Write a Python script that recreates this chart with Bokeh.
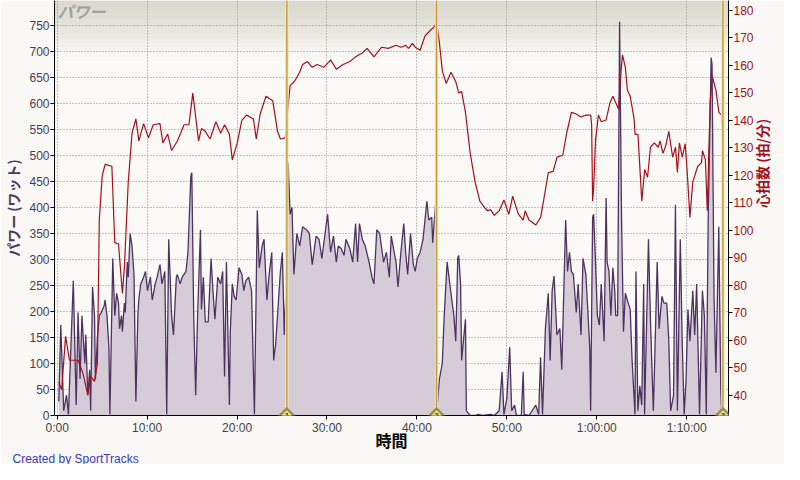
import math
from bokeh.plotting import figure
from bokeh.models import Range1d, LinearAxis, FixedTicker, Label, BoxAnnotation, Span, Title
from bokeh.embed import file_html
from bokeh.resources import INLINE

# ---------------- data ----------------
power_t = [0.18,0.40,0.72,1.04,1.25,1.79,2.11,2.32,2.54,2.75,3.07,3.18,3.40,3.61,3.72,3.93,4.15,4.25,4.47,4.68,
           4.90,5.22,5.32,5.54,5.75,5.86,6.18,6.40,6.61,6.82,6.93,7.15,7.25,7.47,7.57,7.79,7.90,8.11,8.32,8.54,
           8.75,8.97,9.07,9.29,9.61,9.82,10.04,10.36,10.57,10.90,11.11,11.43,11.65,11.97,12.18,12.40,12.72,12.93,
           13.25,13.36,13.68,13.90,14.32,14.54,
           14.86,14.97,15.18,15.40,15.61,15.93,16.04,16.25,16.47,16.79,17.11,17.32,17.54,17.86,18.18,18.40,18.61,
           18.82,19.15,19.25,19.47,19.68,19.90,20.22,20.54,20.75,20.97,21.29,21.61,21.93,22.25,22.47,22.79,23.00,
           23.32,23.54,23.86,24.07,24.29,24.50,24.82,25.04,25.25,25.47,25.57,25.68,25.90,26.11,26.32,26.65,26.97,
           27.29,27.72,28.04,28.36,28.79,29.11,29.43,
           30.07,30.40,30.72,31.04,31.25,31.57,31.90,32.11,32.54,32.86,33.18,33.40,33.61,33.93,34.25,34.68,35.00,
           35.22,35.54,35.86,36.29,36.61,36.93,37.15,37.47,37.68,37.90,38.22,38.54,38.75,38.97,39.29,39.61,39.82,
           40.04,40.36,40.68,41.11,41.32,41.65,41.75,42.07,42.18,42.50,42.82,43.04,43.36,43.79,44.11,44.32,44.54,
           44.65,44.86,44.97,45.40,45.50,45.93,46.47,46.79,47.32,48.18,48.61,49.15,49.47,49.68,50.00,50.32,50.54,
           50.86,51.07,51.61,51.82,51.93,52.47,53.22,53.54,53.75,53.97,54.29,54.61,54.82,55.04,55.25,55.57,55.90,
           56.11,56.54,56.75,56.97,57.18,57.40,57.72,57.93,58.25,58.47,58.79,59.00,59.22,59.32,59.54,
           59.65,59.86,60.07,60.29,60.50,60.82,61.04,61.15,61.36,61.57,61.79,62.00,62.11,62.32,62.54,62.75,62.97,
           63.18,63.50,63.72,63.93,64.25,64.36,64.57,64.79,65.00,65.22,65.32,65.75,65.97,66.29,66.39,66.72,66.93,
           67.25,67.47,67.79,68.00,68.22,68.54,68.75,68.97,69.29,69.50,69.72,69.93,70.14,70.36,70.68,70.89,71.11,
           71.43,71.75,71.97,72.18,72.39,72.72,72.82,73.04,73.25,73.57,73.79,73.90]

power_w = [27,174,9,39,2,259,20,198,70,192,100,155,39,88,9,247,192,70,149,192,
           198,211,222,192,131,2,302,192,235,216,167,192,161,216,198,295,266,350,326,271,
           27,192,222,253,266,277,240,266,222,253,266,290,253,277,2,339,192,155,
           266,271,253,266,277,314,
           460,467,192,39,192,357,204,266,180,180,302,240,185,266,253,277,75,
           295,20,161,253,229,222,284,271,240,259,266,240,2,394,284,326,339,
           222,266,314,106,137,192,277,314,155,253,350,486,387,400,271,350,326,
           363,357,350,290,345,339,302,
           387,314,345,295,326,321,308,339,321,295,369,295,369,339,326,295,266,
           253,357,350,295,314,266,345,314,295,247,314,369,314,271,350,290,277,
           302,314,339,412,376,381,332,405,2,70,100,192,295,235,192,143,302,
           308,253,106,185,9,0,0,2,0,2,0,9,84,2,33,131,9,
           20,0,0,84,2,0,20,2,112,2,167,235,106,240,268,155,167,
           88,376,277,314,277,271,198,253,155,302,271,204,131,9,381,
           387,295,192,174,253,143,418,295,277,192,284,240,192,192,757,387,161,
           235,216,204,106,2,277,9,57,20,253,2,339,185,9,70,295,167,
           229,216,216,149,9,39,405,9,339,143,2,70,204,143,240,155,253,
           2,240,192,2,376,688,675,229,82,363,51,2]

hr_t = [0.18,0.50,0.93,1.36,2.33,2.86,3.40,3.72,4.15,4.47,4.68,5.00,5.33,6.08,6.40,6.82,7.25,7.47,7.90,8.32,
        8.75,9.08,9.61,10.15,10.68,11.43,11.75,12.29,12.72,13.36,14.11,14.65,15.08,15.72,16.04,16.47,17.00,17.65,
        18.18,18.61,19.15,19.47,20.00,20.54,21.07,21.82,22.14,22.57,23.22,23.97,24.50,24.82,25.36,25.68,25.90,
        26.43,26.97,27.29,27.83,28.36,28.90,29.65,30.40,31.04,31.79,32.54,33.18,33.93,34.47,35.22,36.08,36.82,
        37.68,38.22,38.75,39.07,39.50,39.82,40.36,40.90,41.43,41.97,42.18,42.50,42.83,43.26,43.79,44.33,44.65,
        44.97,45.40,45.93,46.47,47.00,47.54,47.86,48.18,48.61,49.15,49.68,50.22,50.65,51.29,51.83,52.04,52.47,
        53.22,53.76,54.08,54.61,55.15,55.58,56.22,56.65,57.18,57.72,58.25,58.79,59.33,59.43,59.54,59.65,59.86,
        60.18,60.50,61.04,61.47,61.79,62.11,62.44,62.65,62.86,63.18,63.40,63.72,64.15,64.26,64.58,65.01,65.33,
        65.65,65.97,66.40,66.83,67.04,67.36,67.68,68.01,68.44,68.76,68.97,69.19,69.51,69.83,70.04,70.36,70.68,
        71.22,71.65,71.76,72.08,72.29,72.61,72.83,73.25,73.58,73.90,74.00]

hr_bpm = [44.6,42,61.4,52.7,52.7,48,40,46.8,45,51.6,103.6,119.8,124,123.3,95.5,95,77,86.4,117.5,135.3,
          140.5,132.5,138.8,133.6,138.4,138.8,131.8,135,129,132.5,138.4,138.4,149.9,132.5,137,136,133.2,139.5,
          135.3,138.4,134.9,125.6,131.5,140.1,141.9,140.5,133.2,142.3,148.8,147.1,136,133.2,133.6,145.3,152.6,
          154.4,157.5,160.3,161.4,159.3,160.3,159.3,162,158.6,160.3,161.4,163.1,164.5,166.2,163.1,166.6,166.2,
          167.3,166.6,167.3,166.2,168,166.6,165.5,170.7,172.5,174.2,175.9,168.3,157.9,153.4,157.5,154,150,
          150.5,142.9,128,117.6,110.6,108.2,107.1,107.5,105.4,107.1,111,105.8,112.4,105.8,103.7,107.1,103.7,
          101.9,104.7,110.6,121,121.4,126.6,127.3,135.3,142.9,142.3,141.2,141.9,141.9,138.4,110.6,115.2,132.5,
          141.9,139.5,140.1,146.4,148.8,146.4,144,155.8,163.8,159.3,151,148.8,140.5,134.9,134.9,110.6,122.1,
          119.3,130.2,131.8,130.2,132.5,128,130.9,136,126.6,130.2,121,131.8,126.6,131.5,122.1,104.7,117.6,
          123.2,124.6,129,125.6,107.1,146.4,156.2,151,142.9,141.9,136]

lap_times = [25.54, 42.18, 74.03]
lap_labels = ["1", "2", "3"]

x_ticks = [0, 10, 20, 30, 40, 50, 60, 70]
x_tick_labels = ["0:00", "10:00", "20:00", "30:00", "40:00", "50:00", "1:00:00", "1:10:00"]
power_ticks = list(range(0, 800, 50))
hr_ticks = list(range(40, 190, 10))

# ---------------- styles ----------------
BG = "#F9F8F4"
FRAME_BG = "#FBFAF7"
PWR_LINE = "#4E3262"
PWR_FILL = "#D5CCD8"
HR_LINE = "#A8101C"
PWR_TXT = "#4A3A5C"
HR_TXT = "#A0101E"
JP = "Noto Sans CJK JP"
TICKF = "Liberation Sans"

p = figure(width=784, height=464, output_backend="svg", toolbar_location=None,
           x_range=Range1d(-0.3, 74.65), y_range=Range1d(0, 798),
           background_fill_color=FRAME_BG, border_fill_color=BG,
           min_border_left=0, min_border_right=0, min_border_top=0, min_border_bottom=0)
p.outline_line_color = None

p.extra_y_ranges = {"hr": Range1d(32.6, 183.6)}

# top gradient band
for i in range(12):
    p.add_layout(BoxAnnotation(bottom=798 - (i + 1) * 9, top=798, fill_color="#A29C8E",
                               fill_alpha=0.033, line_color=None, level="image"))

# grids
for g in (p.xgrid, p.ygrid):
    g.grid_line_color = "#8A8A8A"
    g.grid_line_dash = "1 2"
    g.grid_line_width = 1

# power
p.varea(x=power_t, y1=0, y2=power_w, fill_color=PWR_FILL, fill_alpha=1.0)
p.line(power_t, power_w, line_color=PWR_LINE, line_width=1.3)

# heart rate
p.line(hr_t, hr_bpm, line_color=HR_LINE, line_width=1.2, y_range_name="hr")

# lap markers
for t in lap_times:
    p.add_layout(Span(location=t, dimension="height", line_color="#EFE5B8", line_width=3.5))
    p.add_layout(Span(location=t, dimension="height", line_color="#C29C3C", line_width=1.4))

# x axis
xa = p.xaxis[0]
xa.ticker = FixedTicker(ticks=x_ticks)
xa.major_label_overrides = {t: s for t, s in zip(x_ticks, x_tick_labels)}
xa.axis_label = "時間"
xa.axis_label_text_font = JP
xa.axis_label_text_font_size = "16px"
xa.axis_label_text_font_style = "bold"
xa.axis_label_text_color = "#000000"
xa.axis_label_standoff = -10

# left axis
ya = p.yaxis[0]
ya.ticker = FixedTicker(ticks=power_ticks)
ya.axis_label = "パワー (ワット)"
ya.axis_label_text_font = JP
ya.axis_label_text_font_size = "14px"
ya.axis_label_text_font_style = "bold"
ya.axis_label_text_color = PWR_TXT
ya.axis_label_standoff = 3
ya.major_label_text_color = PWR_TXT

# right axis
ra = LinearAxis(y_range_name="hr", ticker=FixedTicker(ticks=hr_ticks))
ra.axis_label = "心拍数 (拍/分)"
ra.axis_label_text_font = JP
ra.axis_label_text_font_size = "14px"
ra.axis_label_text_font_style = "bold"
ra.axis_label_text_color = HR_TXT
ra.axis_label_standoff = 5
ra.major_label_text_color = HR_TXT
try:
    ra.axis_label_orientation = math.pi / 2
except Exception:
    pass
p.add_layout(ra, "right")

for ax in (xa, ya, ra):
    ax.axis_line_color = "#000000"
    ax.major_tick_line_color = "#000000"
    ax.minor_tick_line_color = None
    ax.major_tick_in = 0
    ax.major_tick_out = 4
    ax.major_label_standoff = 1
    ax.major_label_text_font = TICKF
    ax.major_label_text_font_size = "12px"

# lap diamonds
for t, lab in zip(lap_times, lap_labels):
    p.add_layout(Label(x=t, y=0, y_units="screen", text="◆", text_color="#9A8A40", text_font=JP,
                       text_font_size="19px", text_align="center", text_baseline="middle", level="overlay"))
    p.add_layout(Label(x=t, y=0, y_units="screen", text="◆", text_color="#F2E48A", text_font=JP,
                       text_font_size="14px", text_align="center", text_baseline="middle", level="overlay"))
    p.add_layout(Label(x=t, y=0, y_units="screen", text=lab, text_color="#333300",
                       text_font="Liberation Sans",
                       text_font_size="8px", text_font_style="bold", text_align="center",
                       text_baseline="middle", level="overlay"))

# series title inside the frame
p.add_layout(Label(x=-0.3, y=798, text="パワー", text_color="#8F8F8F", text_font=JP,
                   text_font_size="16px", text_font_style="bold italic", text_alpha=0.8,
                   text_baseline="top", x_offset=3, y_offset=2))

# credit
credit = Title(text="Created by SportTracks", align="left", vertical_align="top", text_color="#3A3AC8",
               text_font="Liberation Sans", text_font_size="12px", text_font_style="normal")
try:
    credit.offset = -42
    credit.standoff = -6
except Exception:
    pass
p.add_layout(credit, "below")

open("out.html", "w").write(file_html(p, INLINE))
